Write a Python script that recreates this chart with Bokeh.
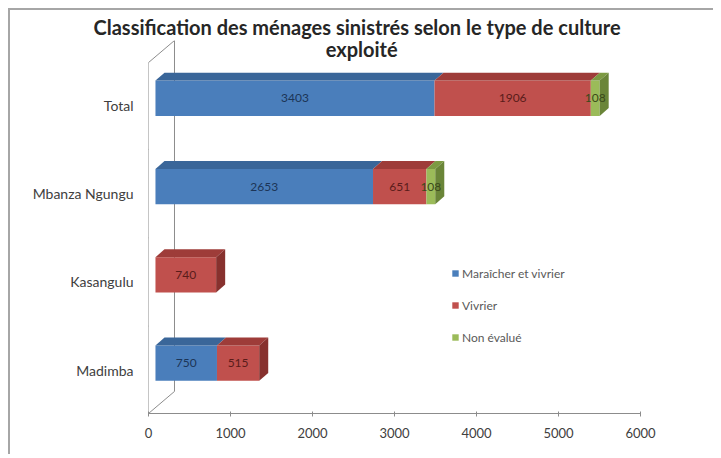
from bokeh.plotting import figure
from bokeh.models import Range1d, FixedTicker, Label, Legend, LegendItem, Title
from bokeh.embed import file_html
from bokeh.resources import INLINE
from bokeh.core.properties import value

# ---------------- data ----------------
categories = ["Madimba", "Kasangulu", "Mbanza Ngungu", "Total"]
maraicher_vivrier = [750, 0, 2653, 3403]
vivrier = [515, 740, 651, 1906]
non_evalue = [0, 0, 108, 108]
series_names = ["Maraîcher et vivrier", "Vivrier", "Non évalué"]
x_ticks = [0, 1000, 2000, 3000, 4000, 5000, 6000]
title_lines = ["Classification des ménages sinistrés selon le type de culture",
               "exploité"]

# ---------------- style ----------------
front_colors = ["#4A7EBB", "#C0504D", "#9BBB59"]
top_colors = ["#3A6699", "#9E3C39", "#7C9A42"]
side_colors = ["#2F5582", "#87312E", "#6A8538"]
text_colors = ["#1C3557", "#5A1C1A", "#3A4A1A"]
FONT = "Lato"
SHIFT = 85        # 3-D floor offset (data units)
DX = 110          # depth, x (data units)
DY = 0.09         # depth, y (category units)
BAR_H = 0.40
BAR_OFF = 0.08
AXIS_COL = "#8C8C8C"
Y_LO, Y_HI = -0.49, 3.734
WALL_TOP = 3.734

p = figure(width=705, height=446, output_backend="svg", toolbar_location=None,
           x_range=Range1d(0, 6000), y_range=Range1d(Y_LO, Y_HI),
           min_border_left=138, min_border_right=75, min_border_top=30,
           min_border_bottom=43, title=None)
p.styles = {"margin-left": "8px", "margin-top": "8px",
            "border-left": "2px solid #A6A6A6", "border-top": "2px solid #A6A6A6"}
p.outline_line_color = None
p.xgrid.visible = False
p.ygrid.visible = False

p.title = Title(text=title_lines[0], align="left", offset=-55, standoff=4,
                text_font=FONT, text_font_size="20px", text_font_style="bold",
                text_color="#262626")

# 3-D wall / floor outline
wall_dx = 317
wall_dy = 0.25
p.segment(x0=[0, wall_dx, 0, 0], y0=[Y_LO, Y_LO + wall_dy, Y_LO, WALL_TOP - wall_dy],
          x1=[0, wall_dx, wall_dx, wall_dx], y1=[WALL_TOP - wall_dy, WALL_TOP, Y_LO + wall_dy, WALL_TOP],
          line_color=AXIS_COL, line_width=1)
# y tick marks on front axis
tick_pos = [i + 0.5 for i in range(len(categories) - 1)] + [WALL_TOP - wall_dy]
p.segment(x0=[-50] * len(tick_pos), y0=tick_pos, x1=[0] * len(tick_pos), y1=tick_pos,
          line_color=AXIS_COL, line_width=1)

series = [maraicher_vivrier, vivrier, non_evalue]
legend_items = []
for s_idx, vals in enumerate(series):
    ys, lefts, rights = [], [], []
    top_xs, top_ys, side_xs, side_ys = [], [], [], []
    lx, ly, lt = [], [], []
    for c_idx in range(len(categories)):
        start = SHIFT + sum(series[k][c_idx] for k in range(s_idx))
        v = vals[c_idx]
        end = start + v
        yc = c_idx + BAR_OFF
        ys.append(yc)
        lefts.append(start)
        rights.append(end)
        if v <= 0:
            continue
        top = yc + BAR_H / 2
        bot = yc - BAR_H / 2
        top_xs.append([start, start + DX, end + DX, end])
        top_ys.append([top, top + DY, top + DY, top])
        is_last = all(series[k][c_idx] == 0 for k in range(s_idx + 1, len(series)))
        if is_last:
            side_xs.append([end, end + DX, end + DX, end])
            side_ys.append([bot, bot + DY, top + DY, top])
        lx.append((start + end) / 2)
        ly.append(yc)
        lt.append(str(v))
    r = p.hbar(y=ys, left=lefts, right=rights, height=BAR_H,
               fill_color=front_colors[s_idx], line_color=None)
    legend_items.append(LegendItem(label=series_names[s_idx], renderers=[r]))
    if top_xs:
        p.patches(top_xs, top_ys, fill_color=top_colors[s_idx], line_color=None)
    if side_xs:
        p.patches(side_xs, side_ys, fill_color=side_colors[s_idx], line_color=None)
    p.text(x=lx, y=ly, text=lt, text_align="center", text_baseline="middle",
           text_font=value(FONT), text_font_size="12px", text_color=text_colors[s_idx])

# axes
p.xaxis.ticker = FixedTicker(ticks=x_ticks)
p.xaxis.axis_line_color = AXIS_COL
p.xaxis.major_tick_line_color = AXIS_COL
p.xaxis.major_tick_in = 2
p.xaxis.major_tick_out = 3
p.xaxis.minor_tick_line_color = None
p.xaxis.major_label_standoff = 11
p.xaxis.major_label_text_font = FONT
p.xaxis.major_label_text_font_size = "13px"
p.xaxis.major_label_text_color = "#404040"

p.yaxis.ticker = FixedTicker(ticks=list(range(len(categories))))
p.yaxis.major_label_overrides = {i: c for i, c in enumerate(categories)}
p.yaxis.axis_line_color = None
p.yaxis.major_tick_line_color = None
p.yaxis.minor_tick_line_color = None
p.yaxis.major_tick_out = 0
p.yaxis.major_tick_in = 0
p.yaxis.major_label_standoff = 15
p.yaxis.major_label_text_font = FONT
p.yaxis.major_label_text_font_size = "14px"
p.yaxis.major_label_text_color = "#404040"

# legend
legend = Legend(items=legend_items, location=(303, 67), orientation="vertical",
                glyph_width=8, glyph_height=8, label_height=18, spacing=14,
                label_standoff=3, padding=0, margin=0,
                label_text_font=FONT, label_text_font_size="12px",
                label_text_color="#595959", border_line_color=None,
                background_fill_alpha=0)
p.add_layout(legend, "center")

# second title line (inside the plot area)
p.add_layout(Label(x=2600, y=3.643, text=title_lines[1], text_align="center",
                   text_baseline="middle", text_font=FONT, text_font_size="20px",
                   text_font_style="bold", text_color="#262626"))

open("out.html", "w").write(file_html(p, INLINE))
